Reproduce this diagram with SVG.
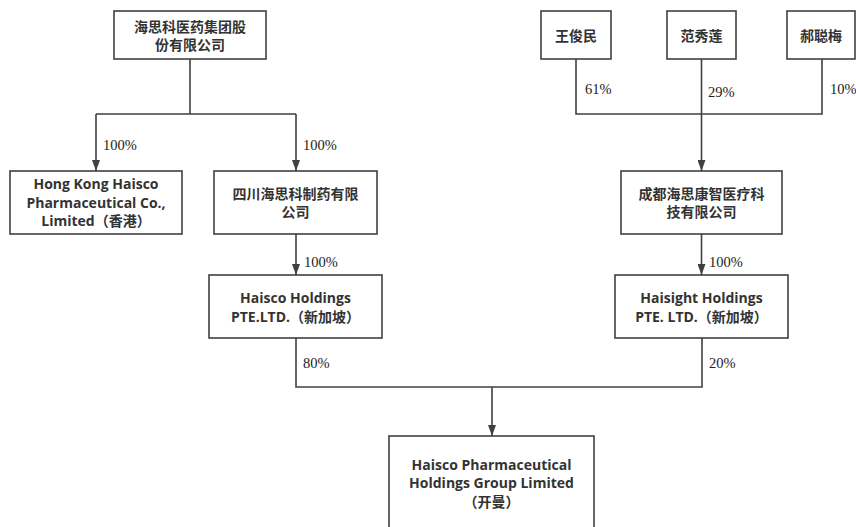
<svg xmlns="http://www.w3.org/2000/svg" width="856" height="527" viewBox="0 0 856 527">
<style>
.box{fill:#fff;stroke:#404040;stroke-width:1.6}
.t{font-family:"Open Sans","Noto Sans CJK SC",sans-serif;font-weight:bold;font-size:14px;fill:#333;text-anchor:middle}
.p{font-family:"Liberation Serif","Times New Roman",serif;font-size:14.5px;fill:#222}
.ln{fill:none;stroke:#404040;stroke-width:1.6}
</style>
<defs>
<marker id="ah" viewBox="0 0 11 8" refX="11" refY="4" markerWidth="7" markerHeight="5" markerUnits="strokeWidth" orient="auto">
<path d="M0,0 L11,4 L0,8 z" fill="#404040"/>
</marker>
</defs>
<rect width="856" height="527" fill="#fff"/>
<g id="connectors">
<path class="ln" d="M190,59 V114 M96,114 H296"/>
<path class="ln" d="M96,114 V171" marker-end="url(#ah)"/>
<path class="ln" d="M296,114 V171" marker-end="url(#ah)"/>
<path class="ln" d="M296,234 V275" marker-end="url(#ah)"/>
<path class="ln" d="M576,59 V114 H822 V59"/>
<path class="ln" d="M701.5,59 V171" marker-end="url(#ah)"/>
<path class="ln" d="M701.5,234 V275" marker-end="url(#ah)"/>
<path class="ln" d="M296,338 V387 H702 V338"/>
<path class="ln" d="M492,387 V436" marker-end="url(#ah)"/>
<text class="p" x="103" y="150">100%</text>
<text class="p" x="303" y="150">100%</text>
<text class="p" x="585" y="94">61%</text>
<text class="p" x="708" y="97">29%</text>
<text class="p" x="830" y="94">10%</text>
<text class="p" x="304" y="267">100%</text>
<text class="p" x="709" y="267">100%</text>
<text class="p" x="303" y="368">80%</text>
<text class="p" x="709" y="368">20%</text>
</g>
<g id="haisco-group">
<rect class="box" x="114" y="11" width="152" height="48"/>
<text class="t" x="190" y="32">海思科医药集团股</text>
<text class="t" x="190" y="50">份有限公司</text>
</g>
<g id="hk-haisco">
<rect class="box" x="10" y="171" width="172" height="63"/>
<text class="t" x="96" y="189">Hong Kong Haisco</text>
<text class="t" x="96" y="208">Pharmaceutical Co.,</text>
<text class="t" x="96" y="226">Limited（香港）</text>
</g>
<g id="sichuan-haisco">
<rect class="box" x="214" y="171" width="163" height="63"/>
<text class="t" x="295.5" y="199">四川海思科制药有限</text>
<text class="t" x="295.5" y="217">公司</text>
</g>
<g id="wang">
<rect class="box" x="541" y="11" width="70" height="48"/>
<text class="t" x="576" y="41">王俊民</text>
</g>
<g id="fan">
<rect class="box" x="667" y="11" width="69" height="48"/>
<text class="t" x="701.5" y="41">范秀莲</text>
</g>
<g id="hao">
<rect class="box" x="787" y="11" width="68" height="48"/>
<text class="t" x="821" y="41">郝聪梅</text>
</g>
<g id="chengdu">
<rect class="box" x="621" y="171" width="161" height="63"/>
<text class="t" x="701.5" y="199">成都海思康智医疗科</text>
<text class="t" x="701.5" y="217">技有限公司</text>
</g>
<g id="haisco-holdings">
<rect class="box" x="209" y="275" width="173" height="63"/>
<text class="t" x="295.5" y="303">Haisco Holdings</text>
<text class="t" x="295.5" y="322">PTE.LTD.（新加坡）</text>
</g>
<g id="haisight-holdings">
<rect class="box" x="615" y="275" width="173" height="63"/>
<text class="t" x="701.5" y="303">Haisight Holdings</text>
<text class="t" x="701.5" y="322">PTE. LTD.（新加坡）</text>
</g>
<g id="haisco-pharma-group">
<rect class="box" x="389" y="436" width="205" height="110"/>
<text class="t" x="491.5" y="470">Haisco Pharmaceutical</text>
<text class="t" x="491.5" y="488">Holdings Group Limited</text>
<text class="t" x="491.5" y="507">（开曼）</text>
</g>
</svg>
